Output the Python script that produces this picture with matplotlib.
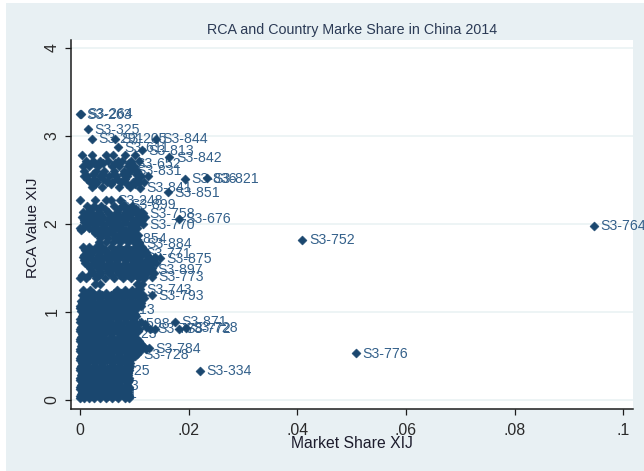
import matplotlib
matplotlib.use("Agg")
import matplotlib.pyplot as plt
from matplotlib.patches import Rectangle

title = "RCA and Country Marke Share in China 2014"
x_label = "Market Share XIJ"
y_label = "RCA Value XIJ"
x_ticks = [0, 0.02, 0.04, 0.06, 0.08, 0.1]
x_tick_labels = ["0", ".02", ".04", ".06", ".08", ".1"]
y_ticks = [0, 1, 2, 3, 4]

# Labelled products (legible in the picture)
codes = ["S3-263", "S3-264", "S3-325", "S3-291", "S3-205", "S3-844", "S3-611", "S3-813",
         "S3-842", "S3-652", "S3-831", "S3-836", "S3-821", "S3-841", "S3-851", "S3-248",
         "S3-899", "S3-758", "S3-676", "S3-770", "S3-752", "S3-764", "S3-854", "S3-884",
         "S3-771", "S3-875", "S3-897", "S3-773", "S3-743", "S3-793", "S3-713", "S3-871",
         "S3-598", "S3-772", "S3-728", "S3-723", "S3-784", "S3-728", "S3-776", "S3-334",
         "S3-525", "S3-513", "S3-511", "S3-778"]
code_share = [0.0000, 0.0001, 0.0014, 0.0022, 0.0064, 0.0140, 0.0070, 0.0114,
              0.0164, 0.0090, 0.0092, 0.0193, 0.0233, 0.0110, 0.0161, 0.0057,
              0.0080, 0.0116, 0.0182, 0.0116, 0.0409, 0.0946, 0.0064, 0.0109,
              0.0107, 0.0147, 0.0130, 0.0132, 0.0110, 0.0132, 0.0042, 0.0175,
              0.0070, 0.0182, 0.0195, 0.0046, 0.0127, 0.0105, 0.0508, 0.0220,
              0.0032, 0.0013, 0.0010, 0.0129]
code_rca = [3.25, 3.255, 3.08, 2.97, 2.97, 2.97, 2.87, 2.84,
            2.76, 2.69, 2.61, 2.515, 2.52, 2.41, 2.36, 2.27,
            2.22, 2.125, 2.06, 2.00, 1.82, 1.98, 1.84, 1.78,
            1.66, 1.61, 1.48, 1.40, 1.26, 1.19, 1.03, 0.89,
            0.87, 0.81, 0.82, 0.76, 0.59, 0.52, 0.534, 0.333,
            0.34, 0.17, 0.08, 0.81]

# Unlabelled cloud, one row per RCA level
cloud_rca = [2.78, 2.72, 2.66, 2.6, 2.54, 2.48, 2.42, 2.27, 2.2, 2.14, 2.08, 2.02, 1.96,
             1.9, 1.84, 1.74, 1.68, 1.62, 1.56, 1.5, 1.44, 1.39, 1.25, 1.19, 1.13, 1.07,
             1.01, 0.95, 0.89, 0.83, 0.78, 0.72, 0.67, 0.61, 0.56, 0.5, 0.45, 0.39, 0.34,
             0.28, 0.23, 0.17, 0.12, 0.07, 0.02]
cloud_share = [
    [0.0004, 0.0021, 0.0048, 0.0061, 0.0083, 0.0102],
    [0.0011, 0.0024, 0.0037, 0.0052, 0.0069, 0.0078, 0.0094, 0.0108],
    [0.0006, 0.0017, 0.0033, 0.0058, 0.0072, 0.0088, 0.0099],
    [0.0008, 0.0029, 0.0044, 0.0063, 0.0081, 0.0091, 0.0104],
    [0.0007, 0.0013, 0.0036, 0.0054, 0.0066, 0.0086, 0.0113, 0.0125],
    [0.0018, 0.0031, 0.0049, 0.0059, 0.0075, 0.0097, 0.0109, 0.0118],
    [0.0022, 0.0041, 0.0071, 0.0092],
    [0.0000, 0.0028, 0.0047, 0.0074],
    [0.0012, 0.0026, 0.0039, 0.0062, 0.0079, 0.0096],
    [0.0005, 0.0018, 0.0034, 0.0051, 0.0068, 0.0084, 0.0101, 0.0112],
    [0.0003, 0.0014, 0.0029, 0.0043, 0.0058, 0.0073, 0.0089, 0.0106, 0.0119],
    [0.0008, 0.0021, 0.0037, 0.0053, 0.0067, 0.0082, 0.0098, 0.0109],
    [0.0000, 0.0006, 0.0017, 0.0031, 0.0046, 0.0064, 0.0077, 0.0093, 0.0104],
    [0.0027, 0.0042, 0.0059, 0.0076, 0.0087, 0.0099],
    [0.0036, 0.0052, 0.0069, 0.0081, 0.0094, 0.0103],
    [0.0006, 0.0016, 0.0029, 0.0041, 0.0057, 0.0072, 0.0086, 0.0101, 0.0114],
    [0.0012, 0.0023, 0.0037, 0.0049, 0.0063, 0.0078, 0.0091, 0.0108, 0.0121],
    [0.0005, 0.0015, 0.0031, 0.0044, 0.0059, 0.0074, 0.0088, 0.0103, 0.0126, 0.0137],
    [0.0009, 0.0026, 0.0038, 0.0053, 0.0067, 0.0083, 0.0097, 0.0111, 0.0128, 0.0139],
    [0.0019, 0.0033, 0.0047, 0.0061, 0.0076, 0.0092, 0.0106, 0.0119, 0.0133],
    [0.0024, 0.0039, 0.0054, 0.0071, 0.0084, 0.0099, 0.0113, 0.0124, 0.0136],
    [0.0000, 0.0011, 0.0029, 0.0046, 0.0063, 0.0079, 0.0094, 0.0108, 0.0118],
    [0.0006, 0.0018, 0.0068, 0.0082, 0.0096, 0.0104],
    [0.0003, 0.0014, 0.0027, 0.0041, 0.0056, 0.0072, 0.0087, 0.0101, 0.0116],
    [0.0001, 0.0009, 0.0021, 0.0036, 0.0049, 0.0064, 0.0079, 0.0093, 0.0109],
    [0.0000, 0.0005, 0.0016, 0.0031, 0.0044, 0.0058, 0.0071, 0.0086, 0.0098, 0.0112],
    [0.0001, 0.0011, 0.0024, 0.0039, 0.0053, 0.0067, 0.0083, 0.0097],
    [0.0004, 0.0018, 0.0032, 0.0046, 0.0061, 0.0076, 0.0091, 0.0103],
    [0.0000, 0.0009, 0.0023, 0.0038, 0.0054, 0.0069, 0.0084, 0.0098, 0.0112],
    [0.0001, 0.0013, 0.0028, 0.0043, 0.0059, 0.0073, 0.0088, 0.0102, 0.0121],
    [0.0000, 0.0007, 0.0019, 0.0034, 0.0048, 0.0063, 0.0079, 0.0094, 0.0106],
    [0.0002, 0.0012, 0.0026, 0.0041, 0.0056, 0.0071, 0.0085, 0.0099],
    [0.0000, 0.0008, 0.0021, 0.0036, 0.0051, 0.0066, 0.0081, 0.0096, 0.0108],
    [0.0001, 0.0014, 0.0029, 0.0044, 0.0058, 0.0074, 0.0089, 0.0103, 0.0116],
    [0.0000, 0.0007, 0.0022, 0.0037, 0.0052, 0.0068, 0.0083, 0.0098, 0.0111],
    [0.0002, 0.0013, 0.0027, 0.0042, 0.0057, 0.0072, 0.0087, 0.0101],
    [0.0000, 0.0008, 0.0019, 0.0034, 0.0049, 0.0064, 0.0079, 0.0092],
    [0.0001, 0.0012, 0.0026, 0.0041, 0.0056, 0.0071, 0.0086, 0.0091],
    [0.0000, 0.0007, 0.0021, 0.0036, 0.0051, 0.0066, 0.0081, 0.0090],
    [0.0002, 0.0014, 0.0028, 0.0043, 0.0058, 0.0073, 0.0088],
    [0.0000, 0.0008, 0.0022, 0.0037, 0.0052, 0.0067, 0.0082, 0.0090],
    [0.0001, 0.0013, 0.0027, 0.0042, 0.0057, 0.0072, 0.0087],
    [0.0000, 0.0007, 0.0021, 0.0036, 0.0051, 0.0066, 0.0081, 0.0090],
    [0.0002, 0.0014, 0.0029, 0.0044, 0.0059, 0.0074, 0.0088],
    [0.0000, 0.0008, 0.0016, 0.0026, 0.0036, 0.0047, 0.0059, 0.0069, 0.0082, 0.0090],
]

# Second layer of the cloud, between the rows above
fill_rca = [2.69, 2.57, 2.51, 2.45, 2.17, 2.11, 2.05, 1.99, 1.93, 1.87, 1.79, 1.71, 1.65, 1.59,
            1.53, 1.47, 1.42, 1.32, 1.22, 1.16, 1.1, 1.04, 0.98, 0.92, 0.86, 0.805, 0.75, 0.695,
            0.64, 0.585, 0.53, 0.475, 0.42, 0.365, 0.31, 0.255, 0.2, 0.145, 0.095, 0.045]
fill_share = [
    [0.0026, 0.0042, 0.0064, 0.0094],
    [0.0024, 0.0042, 0.0062, 0.0079, 0.0103],
    [0.0012, 0.0026, 0.0042, 0.0068, 0.0082, 0.0104],
    [0.0028, 0.0056, 0.0086, 0.0102],
    [0.0019, 0.0033, 0.0046, 0.0071, 0.0088, 0.0103],
    [0.0011, 0.0024, 0.0037, 0.0054, 0.0066, 0.0081, 0.0094, 0.0108],
    [0.0008, 0.0022, 0.0036, 0.0051, 0.0066, 0.0081, 0.0097, 0.0114],
    [0.0012, 0.0028, 0.0044, 0.0059, 0.0074, 0.0091, 0.0102],
    [0.0002, 0.0024, 0.0038, 0.0054, 0.0071, 0.0085, 0.0099],
    [0.0034, 0.0048, 0.0064, 0.0079, 0.0091, 0.0106],
    [0.0034, 0.0047, 0.0061, 0.0074, 0.0088, 0.0099, 0.0109],
    [0.0009, 0.0022, 0.0034, 0.0046, 0.0064, 0.0079, 0.0094, 0.0106, 0.0118],
    [0.0008, 0.0019, 0.0034, 0.0054, 0.0069, 0.0084, 0.0099, 0.0114, 0.0124],
    [0.0007, 0.0022, 0.0037, 0.0051, 0.0066, 0.0082, 0.0096, 0.0109, 0.0122, 0.0134],
    [0.0014, 0.0029, 0.0043, 0.0056, 0.0071, 0.0086, 0.0101, 0.0116, 0.0129],
    [0.0021, 0.0036, 0.0051, 0.0068, 0.0081, 0.0096, 0.0109, 0.0121, 0.0131],
    [0.0003, 0.0017, 0.0034, 0.0058, 0.0074, 0.0088, 0.0103, 0.0117],
    [0.0027, 0.0036, 0.0104, 0.0114],
    [0.0012, 0.0023, 0.0034, 0.0048, 0.0062, 0.0076, 0.0092, 0.0109],
    [0.0007, 0.0021, 0.0034, 0.0049, 0.0064, 0.0079, 0.0094, 0.0108, 0.0118],
    [0.0004, 0.0014, 0.0028, 0.0043, 0.0056, 0.0071, 0.0086, 0.0101, 0.0113],
    [0.0000, 0.0011, 0.0023, 0.0037, 0.0051, 0.0065, 0.0078, 0.0092, 0.0105],
    [0.0006, 0.0017, 0.0031, 0.0046, 0.0059, 0.0074, 0.0089, 0.0102],
    [0.0000, 0.0011, 0.0025, 0.0039, 0.0053, 0.0068, 0.0083, 0.0097],
    [0.0005, 0.0016, 0.0031, 0.0046, 0.0061, 0.0076, 0.0091, 0.0105, 0.0119],
    [0.0000, 0.0010, 0.0021, 0.0036, 0.0051, 0.0066, 0.0081, 0.0095, 0.0109, 0.0138],
    [0.0004, 0.0014, 0.0027, 0.0042, 0.0056, 0.0071, 0.0086, 0.0099],
    [0.0000, 0.0009, 0.0019, 0.0033, 0.0048, 0.0063, 0.0078, 0.0092, 0.0104],
    [0.0003, 0.0014, 0.0028, 0.0043, 0.0058, 0.0073, 0.0088, 0.0102, 0.0113],
    [0.0000, 0.0008, 0.0021, 0.0036, 0.0051, 0.0066, 0.0081, 0.0096, 0.0109, 0.0122],
    [0.0003, 0.0014, 0.0029, 0.0044, 0.0059, 0.0074, 0.0089, 0.0102],
    [0.0000, 0.0008, 0.0021, 0.0036, 0.0051, 0.0066, 0.0081, 0.0094],
    [0.0003, 0.0013, 0.0028, 0.0043, 0.0058, 0.0073, 0.0086, 0.0092],
    [0.0000, 0.0008, 0.0021, 0.0035, 0.0050, 0.0065, 0.0080, 0.0090],
    [0.0003, 0.0014, 0.0029, 0.0044, 0.0059, 0.0074, 0.0088],
    [0.0000, 0.0008, 0.0021, 0.0036, 0.0051, 0.0066, 0.0081, 0.0090],
    [0.0003, 0.0014, 0.0029, 0.0044, 0.0059, 0.0074, 0.0088],
    [0.0000, 0.0008, 0.0021, 0.0036, 0.0051, 0.0066, 0.0081, 0.0090],
    [0.0003, 0.0014, 0.0029, 0.0044, 0.0059, 0.0074, 0.0088],
    [0.0000, 0.0008, 0.0021, 0.0036, 0.0051, 0.0066, 0.0081, 0.0090],
]

W, H = 644, 471
NAVY = "#1a476f"
BG = "#e8f0f3"

plt.rcParams["font.family"] = ["Liberation Sans", "DejaVu Sans"]
fig = plt.figure(figsize=(W / 100, H / 100), dpi=100, facecolor="white")
fig.patches.append(Rectangle((6 / W, 0), 1 - 6 / W, 1 - 3 / H, transform=fig.transFigure,
                             facecolor=BG, edgecolor="none", zorder=-5))

left, right, top, bottom = 70.7, 633.3, 40, 409.3
ax = fig.add_axes([left / W, 1 - bottom / H, (right - left) / W, (bottom - top) / H])
ax.set_facecolor("white")
ax.set_xlim(-0.00173, 0.10185)
ax.set_ylim(-0.1056, 4.091)

ax.set_axisbelow(True)
ax.grid(axis="y", color="#eaf2f3", linewidth=1.2)
ax.spines["top"].set_visible(False)
ax.spines["right"].set_visible(False)
for s in ("left", "bottom"):
    ax.spines[s].set_color("#1c1c1c")
    ax.spines[s].set_linewidth(1.1)

ax.set_xticks(x_ticks)
ax.set_xticklabels(x_tick_labels)
ax.set_yticks(y_ticks)
ax.tick_params(axis="both", length=4.2, width=0.9, color="#1c1c1c", labelsize=11.4,
               labelcolor="#2a2a2a")
ax.tick_params(axis="x", pad=6)
ax.tick_params(axis="y", pad=4)
for t in ax.get_yticklabels():
    t.set_rotation(90)
    t.set_va("center")

MARK = dict(marker="D", s=21, color=NAVY, edgecolors=NAVY, linewidths=0.4, zorder=3)
for r, shares in zip(cloud_rca, cloud_share):
    ax.scatter(shares, [r] * len(shares), **MARK)
for r, shares in zip(fill_rca, fill_share):
    ax.scatter(shares, [r] * len(shares), **MARK)
ax.scatter(code_share, code_rca, **MARK)
for c, xv, yv in zip(codes, code_share, code_rca):
    ax.annotate(c, (xv, yv), xytext=(4.8, -0.4), textcoords="offset points", va="center",
                ha="left", fontsize=10.2, color="#33608a", zorder=2, annotation_clip=False)

fig.text(352 / W, 1 - 30 / H, title, ha="center", va="center", fontsize=10.3, color="#2b3a55")
fig.text(352 / W, 1 - 444 / H, x_label, ha="center", va="center", fontsize=11.3, color="#1c1c2c")
fig.text(33 / W, 1 - 228 / H, y_label, ha="center", va="center", rotation=90,
         fontsize=11.1, color="#1c1c2c")

fig.savefig("out.png", dpi=100, facecolor="white")
